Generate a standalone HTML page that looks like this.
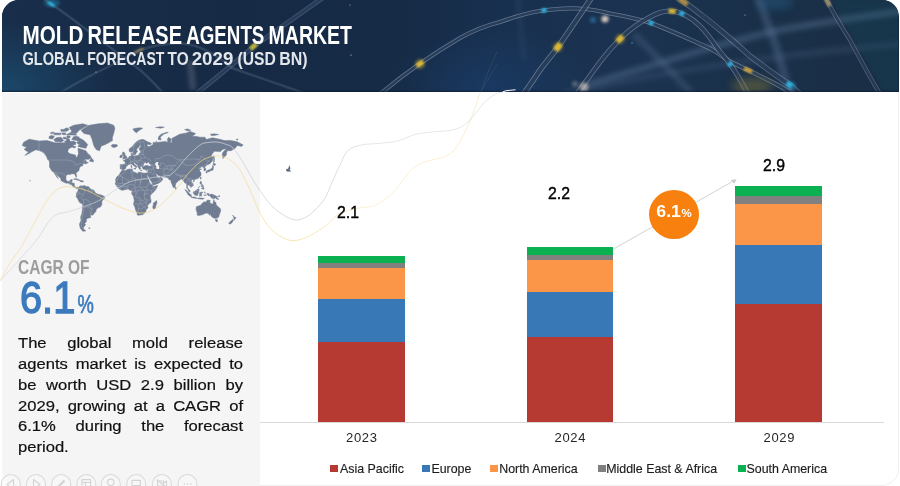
<!DOCTYPE html>
<html lang="en">
<head>
<meta charset="utf-8">
<title>Mold Release Agents Market</title>
<style>
html,body{margin:0;padding:0;background:#fff;}
body{width:900px;height:486px;overflow:hidden;position:relative;font-family:"Liberation Sans",sans-serif;}
#frame{position:absolute;left:2px;top:0;width:897px;height:486px;border:1px solid #f0f0f0;border-radius:17px;box-sizing:border-box;background:#fff;overflow:hidden;}
#header{position:absolute;left:2px;top:0;width:896.5px;height:91.7px;border-radius:17px 17px 0 0;overflow:hidden;background:#172a44;}
#header svg{position:absolute;left:0;top:0;}
#panel{position:absolute;left:2px;top:93.2px;width:257.6px;height:393.5px;background:#f5f5f5;border-radius:0 0 0 17px;}
.t1{position:absolute;left:20.2px;top:19.3px;font-weight:bold;font-size:24px;line-height:32px;color:#fff;white-space:nowrap;transform-origin:0 50%;transform:scaleX(.815);letter-spacing:0;}
.t2{position:absolute;left:20.6px;top:47.2px;font-weight:bold;font-size:17.3px;line-height:24px;color:#e4e6ea;white-space:nowrap;transform-origin:0 50%;transform:scaleX(.868);}
#deco{position:absolute;left:0;top:0;width:900px;height:486px;pointer-events:none;}
.cagr{position:absolute;left:18.4px;top:255.2px;font-weight:bold;font-size:19.8px;line-height:24px;color:#9d9d9d;white-space:nowrap;transform-origin:0 50%;transform:scaleX(.785);}
.big{position:absolute;left:20px;top:273.8px;font-size:44.2px;line-height:48px;color:#3b7abd;white-space:nowrap;transform-origin:0 50%;transform:scaleX(.9);-webkit-text-stroke:1.4px #3b7abd;}
.big small{font-size:25.5px;display:inline-block;transform-origin:0 50%;transform:scaleX(.8);margin-left:3px;-webkit-text-stroke:.7px #3b7abd;}
.para{position:absolute;left:18.3px;top:333.2px;width:210.3px;font-size:15.5px;line-height:20.8px;color:#111;-webkit-text-stroke:.2px #111;transform-origin:0 0;transform:scaleX(1.07);}
.para div{text-align:justify;text-align-last:justify;white-space:nowrap;height:20.8px;}
.para div.last{text-align-last:left;}
.bar{position:absolute;}
.val{position:absolute;font-size:17px;line-height:20px;color:#000;width:40px;text-align:center;-webkit-text-stroke:.4px #000;transform:scaleX(.93);}
.yr{position:absolute;font-size:13px;line-height:16px;color:#262626;width:60px;text-align:center;top:430px;letter-spacing:.75px;text-indent:.75px;}
.lg{position:absolute;top:461.8px;font-size:12.4px;line-height:15px;color:#1c1c1c;white-space:nowrap;-webkit-text-stroke:.15px #1c1c1c;}
.sq{position:absolute;top:464.7px;width:7.6px;height:7.4px;}
#axis{position:absolute;left:260px;top:421.5px;width:624px;height:1px;background:#d9d9d9;}
.bubble{position:absolute;left:649px;top:190px;width:50px;height:49px;border-radius:50%;background:#f8800f;}
.btxt{position:absolute;left:649px;top:201.2px;width:50px;text-align:center;color:#fff;font-weight:bold;font-size:16.4px;line-height:20px;white-space:nowrap;transform:scaleX(1.08);}
.btxt small{font-size:10.6px;margin-left:.5px;}
</style>
</head>
<body>
<div id="frame"></div>
<div id="panel"></div>

<div id="header">
<svg width="896" height="92" viewBox="2 0 896 92">
<defs>
<linearGradient id="hg" x1="0" y1="0" x2="1" y2="0">
<stop offset="0" stop-color="#182e4a"/><stop offset=".25" stop-color="#162a45"/><stop offset=".45" stop-color="#162b46"/><stop offset=".55" stop-color="#18304f"/><stop offset=".7" stop-color="#1b3350"/><stop offset=".85" stop-color="#1a3049"/><stop offset="1" stop-color="#1a2e45"/>
</linearGradient>
<radialGradient id="gl2" cx=".5" cy=".5" r=".5"><stop offset="0" stop-color="#1a3c68" stop-opacity=".75"/><stop offset="1" stop-color="#1a3c68" stop-opacity="0"/></radialGradient>
<radialGradient id="gl1" cx="0" cy="1" r="1"><stop offset="0" stop-color="#1e5a80" stop-opacity=".6"/><stop offset="1" stop-color="#1e5a80" stop-opacity="0"/></radialGradient>
<linearGradient id="edge" x1="0" y1="0" x2="0" y2="1"><stop offset="0" stop-color="#0e1c33" stop-opacity="0"/><stop offset="1" stop-color="#0e1c33" stop-opacity=".7"/></linearGradient>
<filter id="b6" x="-20%" y="-60%" width="140%" height="220%"><feGaussianBlur stdDeviation="2.6"/></filter>
<filter id="b4" x="-50%" y="-100%" width="200%" height="300%"><feGaussianBlur stdDeviation="4"/></filter>
<filter id="b2" x="-50%" y="-50%" width="200%" height="200%"><feGaussianBlur stdDeviation="1.6"/></filter>
<filter id="b1" x="-50%" y="-50%" width="200%" height="200%"><feGaussianBlur stdDeviation=".9"/></filter>
<filter id="b0" x="-10%" y="-10%" width="120%" height="120%"><feGaussianBlur stdDeviation=".35"/></filter>
<path id="T1" d="M380 94 C404 74 436 52 460 38 C476 29 488 25 500 22 C514 17 526 13 540 11 C553 9 566 8 578 8.500 C590 9 600 11 610 13.500 C624 16 638 19 651 23 C661 27 671 31 680 35 C690 39.500 701 44 711 49 C718 53 725 58 731 62 C737 65 743 68 748 70 C756 74 764 78 772 82 C778 85 784 88 792 94"/>
<path id="T2" d="M523 95 C529 86 535 78 540 70 C546 62 552 55 558 47 C569 31 580 15 592 -3"/>
<path id="T3" d="M576 95 C584 84 592 73 600 62 C606 54 613 46 620 39 C630 29 640 22 650 17 C657 13 664 11 670 11 C676 11 681 13 685 15 C691 18 696 22 700 26 C708 34 714 43 720 52 C724 56 727 60 730 64 C736 72 741 81 748 94"/>
<path id="T4" d="M676 -3 C686 3 693 8 700 14 C707 19 714 25 720 30 C730 38 740 47 750 56 C763 66 776 76 790 85 L800 94"/>
<path id="T5" d="M825 -3 C833 12 841 26 850 40 C859 57 868 74 880 94"/>
<path id="T6" d="M196 94 C216 78 236 62 254 46 C276 31 298 15 324 -3"/>
<path id="T7" d="M41 -3 C48 2 54 6 60 10 C74 20 87 30 100 40 C114 50 127 60 140 70 C147 76 154 83 164 94"/>
<path id="T8" d="M60 93 C76 83 93 74 110 66 C120 61 130 55 140 50 C154 45 168 43 182 43.500 C200 45 216 54 232 68 C254 76 278 84 304 93"/>
</defs>
<rect x="0" y="0" width="900" height="92" fill="url(#hg)"/>
<rect x="0" y="20" width="110" height="72" fill="url(#gl1)"/>
<ellipse cx="490" cy="88" rx="100" ry="62" fill="url(#gl2)"/>
<!-- blurred wide bands -->
<g fill="none" stroke="#5b7496" filter="url(#b6)">
<path d="M586 85 C610 78 630 72 650 66 C675 58 698 52 720 45 C740 40 760 34 780 30 C800 26 820 23 840 20 L902 11" stroke-width="7" stroke-opacity=".42"/>
<path d="M634 34 C652 52 670 70 692 94" stroke-width="7" stroke-opacity=".3"/>
<path d="M758 -3 C764 14 770 30 776 46 C780 60 784 76 790 94" stroke-width="8" stroke-opacity=".4"/>
<path d="M560 95 C640 76 760 56 902 44" stroke-width="6" stroke-opacity=".22"/>
<path d="M190 60 L193 90" stroke-width="5" stroke="#9a9aa8" stroke-opacity=".35"/>
<path d="M518 -2 L524 60" stroke-width="5" stroke-opacity=".14"/>
</g>
<path d="M832 0 L900 0 L900 92 L884 92Z" fill="#215a6a" fill-opacity=".13" filter="url(#b2)"/>
<g fill="none" stroke-linecap="butt" filter="url(#b0)">
<use href="#T1" stroke="#b7c6dd" stroke-opacity=".46" stroke-width="4.2"/>
<use href="#T1" stroke="#192e4a" stroke-opacity=".8" stroke-width="2.6"/>
<use href="#T2" stroke="#b7c6dd" stroke-opacity=".46" stroke-width="5.6"/>
<use href="#T2" stroke="#192e4a" stroke-opacity=".8" stroke-width="4"/>
<use href="#T3" stroke="#b7c6dd" stroke-opacity=".42" stroke-width="5"/>
<use href="#T3" stroke="#192e4a" stroke-opacity=".8" stroke-width="3.4"/>
<use href="#T4" stroke="#b7c6dd" stroke-opacity=".36" stroke-width="5.6"/>
<use href="#T4" stroke="#1b314d" stroke-opacity=".78" stroke-width="4"/>
<use href="#T5" stroke="#b7c6dd" stroke-opacity=".36" stroke-width="4.2"/>
<use href="#T5" stroke="#192e4a" stroke-opacity=".78" stroke-width="2.8"/>
<use href="#T6" stroke="#b7c6dd" stroke-opacity=".28" stroke-width="4.6"/>
<use href="#T6" stroke="#1b3152" stroke-opacity=".7" stroke-width="3"/>
<use href="#T7" stroke="#b7c6dd" stroke-opacity=".16" stroke-width="2.4"/>
<use href="#T8" stroke="#b7c6dd" stroke-opacity=".15" stroke-width="2.4"/>
</g>
<!-- colored segments -->
<g fill="none" stroke-linecap="butt" filter="url(#b1)" opacity=".9">
<use href="#T1" stroke="#f0c62e" stroke-width="4.2" stroke-dasharray="7 2000" stroke-dashoffset="-46.5"/>
<use href="#T1" stroke="#2fc0f0" stroke-width="4" stroke-dasharray="5 2000" stroke-dashoffset="-184"/>
<use href="#T1" stroke="#2fc0f0" stroke-width="4" stroke-dasharray="5 2000" stroke-dashoffset="-292.75"/>
<use href="#T1" stroke="#e8b23a" stroke-width="4" stroke-dasharray="9 2000" stroke-dashoffset="-398.75"/>
<use href="#T2" stroke="#f0c62e" stroke-width="5.4" stroke-dasharray="8 2000" stroke-dashoffset="-55.5"/>
<use href="#T3" stroke="#f0c62e" stroke-width="4.8" stroke-dasharray="7 2000" stroke-dashoffset="-67.75"/>
<use href="#T3" stroke="#f0c62e" stroke-width="4.6" stroke-dasharray="7 2000" stroke-dashoffset="-128.25"/>
<use href="#T3" stroke="#2fc0f0" stroke-width="4.6" stroke-dasharray="5 2000" stroke-dashoffset="-139.25"/>
<use href="#T3" stroke="#2fc0f0" stroke-width="4.6" stroke-dasharray="4.5 2000" stroke-dashoffset="-210.5"/>
<use href="#T4" stroke="#e8b23a" stroke-width="4.6" stroke-dasharray="10 2000" stroke-dashoffset="-3.5" stroke-opacity=".8"/>
<use href="#T4" stroke="#2fc0f0" stroke-width="4.8" stroke-dasharray="6 2000" stroke-dashoffset="-140.25"/>
<use href="#T5" stroke="#e8c87a" stroke-width="4" stroke-dasharray="9 2000" stroke-dashoffset="-1.25" stroke-opacity=".7"/>
<use href="#T6" stroke="#dfd030" stroke-width="4.4" stroke-dasharray="8 2000" stroke-dashoffset="-70.5" stroke-opacity=".95"/>
<use href="#T7" stroke="#2fc0f0" stroke-width="3" stroke-dasharray="7 2000" stroke-dashoffset="-9"/>
<use href="#T8" stroke="#d9b85a" stroke-width="2.6" stroke-dasharray="10 2000" stroke-dashoffset="-84.5" stroke-opacity=".6"/>
</g>
<g fill="none" stroke-width=".8"><path d="M481 92 C485 80 490 66 497 52" stroke="#f3d47c" stroke-opacity=".12"/><path d="M480 92 C486 84 491 74 497 64" stroke="#c6c9d2" stroke-opacity=".12"/></g>
<!-- glows -->
<g filter="url(#b2)">
<circle cx="420" cy="64" r="5" fill="#f2c832" fill-opacity=".35"/>
<circle cx="558" cy="47" r="5" fill="#f2c832" fill-opacity=".3"/>
<circle cx="620" cy="39" r="5" fill="#f2c832" fill-opacity=".3"/>
<circle cx="605" cy="19" r="3.600" fill="#f0dccf" fill-opacity=".85"/>
<circle cx="593" cy="20" r="3" fill="#2f8fd0" fill-opacity=".5"/>
<circle cx="584" cy="87" r="4.500" fill="#e8d9c9" fill-opacity=".6"/>
<circle cx="575" cy="84" r="3" fill="#e8d9c9" fill-opacity=".3"/>
<ellipse cx="752" cy="86" rx="20" ry="8" fill="#a08a34" fill-opacity=".38" filter="url(#b4)"/>
<ellipse cx="775" cy="2" rx="18" ry="7" fill="#2a78ac" fill-opacity=".32" filter="url(#b4)"/>
<ellipse cx="52" cy="3" rx="8" ry="4" fill="#2fc0f0" fill-opacity=".3"/>
<circle cx="792" cy="86" r="4" fill="#2fc0f0" fill-opacity=".35"/>
</g>
<g fill="#cfe0f5">
<circle cx="351" cy="55" r=".6"/><circle cx="350" cy="5" r=".5"/><circle cx="632" cy="43" r=".7" fill="#2fa8f0"/><circle cx="96" cy="72" r=".5"/><circle cx="745" cy="15" r=".5"/>
</g>
<rect x="0" y="89.500" width="900" height="2.500" fill="url(#edge)"/>
</svg>
<svg width="896" height="92" viewBox="2 0 896 92" style="position:absolute;left:0;top:0;">
<text y="44.1" font-family="Liberation Sans, sans-serif" font-weight="bold" font-size="25.2" fill="#ffffff" xml:space="preserve"><tspan x="22.4" textLength="61.0" lengthAdjust="spacingAndGlyphs">MOLD</tspan> <tspan x="87.6" textLength="94.4" lengthAdjust="spacingAndGlyphs">RELEASE</tspan> <tspan x="186.2" textLength="78.2" lengthAdjust="spacingAndGlyphs">AGENTS</tspan> <tspan x="268.6" textLength="83.4" lengthAdjust="spacingAndGlyphs">MARKET</tspan></text>
<text y="65.2" font-family="Liberation Sans, sans-serif" font-weight="bold" font-size="18.6" fill="#e3e6eb" xml:space="preserve"><tspan x="22.5" textLength="61.3" lengthAdjust="spacingAndGlyphs">GLOBAL</tspan> <tspan x="87.2" textLength="77.2" lengthAdjust="spacingAndGlyphs">FORECAST</tspan> <tspan x="167.6" textLength="21" lengthAdjust="spacingAndGlyphs">TO</tspan> <tspan x="191.7" textLength="41.6" lengthAdjust="spacingAndGlyphs">2029</tspan> <tspan x="237.5" textLength="38.3" lengthAdjust="spacingAndGlyphs">(USD</tspan> <tspan x="279.2" textLength="28.3" lengthAdjust="spacingAndGlyphs">BN)</tspan></text>
</svg>
</div>

<svg id="deco" viewBox="0 0 900 486">
<defs><linearGradient id="lgGold" gradientUnits="userSpaceOnUse" x1="0" y1="0" x2="500" y2="0"><stop offset="0" stop-color="#f3d47c" stop-opacity=".5"/><stop offset=".12" stop-color="#f3d47c" stop-opacity=".62"/><stop offset=".62" stop-color="#f3d47c" stop-opacity=".62"/><stop offset=".75" stop-color="#f3d47c" stop-opacity=".36"/><stop offset="1" stop-color="#f3d47c" stop-opacity=".45"/></linearGradient><linearGradient id="lgGray" gradientUnits="userSpaceOnUse" x1="0" y1="0" x2="500" y2="0"><stop offset="0" stop-color="#c6c9d2" stop-opacity=".55"/><stop offset=".5" stop-color="#c6c9d2" stop-opacity=".7"/><stop offset=".64" stop-color="#c6c9d2" stop-opacity=".75"/><stop offset=".75" stop-color="#c6c9d2" stop-opacity=".5"/><stop offset="1" stop-color="#c6c9d2" stop-opacity=".5"/></linearGradient><path id="mapshape" d="M22.3 145.4L23.6 142.3L29.1 139.2L39.0 141.0L47.0 140.6L55.0 142.8L59.4 142.8L64.3 142.8L66.8 141.7L68.0 138.4L70.5 141.7L73.6 141.2L76.0 142.8L72.9 144.9L72.3 146.9L68.6 148.8L67.7 151.6L69.2 153.4L72.3 154.3L75.4 155.1L76.6 158.1L77.6 156.0L78.5 153.4L77.9 148.3L81.6 149.3L82.8 149.8L85.9 150.7L87.7 153.4L90.2 155.6L91.4 157.7L89.0 159.3L85.3 159.3L82.8 161.7L85.9 160.1L86.2 162.1L88.4 162.4L85.6 164.1L84.7 163.2L82.8 164.3L82.8 165.7L80.3 166.6L79.1 169.1L79.1 170.5L76.0 172.9L76.6 175.9L76.3 177.3L75.4 175.9L74.8 173.9L71.7 173.7L70.5 174.6L68.0 174.3L66.2 175.6L65.8 179.2L67.4 181.5L69.9 181.3L70.2 179.9L72.3 179.5L71.7 183.0L74.2 183.2L74.5 186.2L76.0 187.4L77.3 187.1L78.2 187.7L77.9 188.7L76.6 188.4L74.8 187.7L73.2 186.8L72.0 184.9L69.9 184.3L68.0 183.0L66.2 183.2L63.1 181.8L60.9 180.5L60.9 178.6L58.7 176.6L56.6 174.3L55.2 172.9L56.9 175.9L58.4 178.6L56.9 177.3L55.7 175.3L53.8 172.2L51.7 170.8L50.7 169.1L49.5 166.9L49.5 162.4L49.1 160.6L50.1 160.1L47.6 158.5L45.8 155.6L43.3 152.5L39.6 150.7L35.9 149.8L32.2 151.6L28.5 153.8L24.8 155.4L28.5 152.1L26.0 150.7L24.2 149.3L26.7 146.9L24.2 146.4ZM76.0 136.4L79.1 137.8L84.0 140.6L87.7 144.4L85.9 148.3L81.6 147.4L77.9 146.4L81.0 142.8L76.6 140.6L71.7 139.5L73.6 136.6ZM53.8 139.5L56.9 137.6L61.2 137.2L63.7 140.6L61.2 142.0L55.0 141.5ZM48.9 138.4L52.6 139.0L54.4 136.6L52.6 135.4L49.5 136.0ZM70.5 132.9L76.6 133.2L79.1 130.3L87.7 125.3L82.8 123.8L73.6 125.3L69.2 127.5L71.7 131.0ZM67.4 134.8L76.6 135.2L76.0 133.8L69.2 132.9ZM53.8 134.8L60.6 134.8L61.2 133.2L54.4 132.9ZM64.3 131.0L66.8 131.2L69.2 129.6L67.4 127.8L64.3 128.9ZM63.1 137.2L66.2 137.2L66.2 139.0L63.7 139.0ZM72.9 145.4L76.0 146.9L74.2 147.9L72.3 147.2ZM81.0 130.3L85.3 127.5L89.0 125.3L98.2 123.8L107.5 123.0L113.7 125.3L114.9 128.2L113.7 133.6L112.4 137.2L112.4 140.6L108.7 142.8L104.4 144.9L101.3 145.9L99.5 150.7L96.4 149.8L93.9 145.9L92.7 141.7L92.1 139.5L90.2 134.8L84.0 133.6ZM111.2 145.4L112.4 144.5L116.7 144.6L117.7 145.9L114.9 147.5L112.1 147.1ZM78.2 187.7L79.7 186.2L81.6 185.6L81.9 186.2L84.0 185.6L86.5 186.5L88.4 186.5L90.8 189.3L93.9 190.2L95.2 192.7L96.4 193.6L98.9 194.5L101.3 194.9L104.4 196.4L104.4 198.6L101.9 201.1L101.9 204.2L100.7 206.8L98.2 207.8L96.1 209.4L96.1 211.1L93.9 213.8L92.7 215.2L90.2 214.8L90.8 217.6L87.7 218.3L85.9 219.8L86.8 220.9L84.7 223.6L85.6 224.7L83.4 227.5L83.7 229.2L85.9 230.9L82.8 231.3L80.3 228.3L79.4 224.3L81.0 220.5L80.7 216.9L81.9 213.4L82.5 208.7L82.8 204.5L79.4 202.3L77.3 197.9L76.0 196.7L76.6 194.9L76.3 193.6L77.3 192.1L78.2 190.5L78.2 188.7ZM120.4 169.1L120.1 164.7L124.8 164.3L125.4 162.4L123.2 160.6L125.1 160.3L125.1 159.5L127.2 158.5L128.5 157.7L129.1 156.6L131.2 156.0L131.2 153.4L132.5 152.8L132.2 154.7L133.4 155.8L134.6 156.0L137.4 155.4L139.0 155.1L139.0 153.4L140.8 153.0L140.5 151.3L143.3 151.0L144.5 150.7L140.2 150.7L139.3 149.8L139.3 147.9L141.4 145.9L139.6 145.2L139.0 146.9L136.8 148.8L136.5 150.2L137.7 151.1L136.2 153.0L135.9 154.1L134.8 154.7L133.9 154.7L133.1 152.5L132.5 151.3L130.9 152.3L129.4 151.6L129.1 149.3L130.3 147.9L132.5 146.4L134.0 144.4L135.9 142.3L138.3 140.6L141.4 139.5L143.3 139.5L145.1 140.3L146.4 141.3L151.3 143.3L150.7 144.7L147.0 144.2L147.6 146.6L149.4 146.4L150.7 145.9L153.1 144.6L153.1 142.3L154.4 142.5L158.7 142.3L163.0 141.7L165.5 141.4L168.0 142.3L167.3 139.5L168.6 137.2L171.0 139.0L170.7 142.8L172.0 142.8L171.7 138.4L175.4 136.6L179.7 134.2L186.5 132.9L190.2 131.4L195.7 133.6L192.0 136.6L195.7 136.3L200.0 137.2L205.0 137.2L206.2 139.5L212.4 137.8L218.6 139.0L224.7 140.6L230.9 140.6L237.1 141.7L243.2 144.9L241.4 146.4L237.7 145.4L236.4 146.4L235.2 148.3L230.9 150.7L227.2 150.7L226.6 152.5L226.3 155.1L224.7 156.8L222.9 158.5L222.3 153.4L223.5 151.6L226.6 148.8L222.9 149.3L220.4 151.6L214.2 151.3L211.1 155.6L213.0 156.8L212.4 160.9L209.6 164.0L207.4 164.7L206.2 165.5L204.7 167.3L205.9 169.1L205.6 170.5L203.9 170.8L204.1 168.7L203.1 167.1L201.0 166.3L200.7 167.7L198.8 167.7L199.4 168.9L201.6 169.1L200.0 169.8L199.5 170.5L201.0 172.9L201.0 175.3L199.7 176.9L197.9 178.6L196.0 179.1L193.9 179.7L193.6 180.3L192.6 179.5L191.4 180.5L191.4 181.8L192.9 183.4L193.4 185.6L192.0 186.5L190.8 187.6L190.7 186.6L189.1 185.6L188.0 184.6L187.4 186.8L188.0 188.7L189.6 189.9L190.2 192.1L188.3 191.1L187.9 189.3L186.7 188.1L186.8 186.2L186.3 183.4L184.9 183.0L184.2 181.8L182.8 179.9L181.8 178.9L180.3 179.4L179.6 180.2L178.4 180.8L176.6 182.7L175.5 183.7L175.4 185.6L175.1 186.8L173.8 188.1L172.9 186.5L172.0 184.3L171.0 182.1L170.9 179.9L169.5 180.0L168.6 179.0L167.5 177.6L164.3 177.1L161.3 176.8L160.9 175.9L158.1 175.6L157.2 173.9L155.9 174.3L156.8 176.3L157.8 177.6L159.3 177.8L160.7 176.6L161.0 177.6L162.9 178.9L161.8 180.8L159.9 182.4L158.1 183.4L153.8 185.1L152.7 185.1L152.2 183.0L150.1 179.5L147.6 175.3L147.3 174.3L147.2 173.0L148.1 170.8L148.2 169.2L146.1 169.7L144.8 169.4L143.3 169.3L142.4 168.0L142.2 166.9L143.9 166.2L145.7 165.5L147.6 165.5L149.4 166.2L151.6 165.8L150.1 164.0L148.8 163.1L149.4 161.7L147.6 162.4L146.7 163.6L145.7 162.4L144.8 162.3L143.6 164.0L143.3 165.5L142.7 166.2L142.0 166.3L140.5 166.7L140.1 167.3L140.8 168.4L140.2 169.4L139.1 168.7L138.0 166.6L137.9 165.5L135.3 163.6L134.5 162.7L133.6 163.1L134.3 164.3L135.9 165.6L137.4 166.8L136.5 166.6L136.2 168.0L135.7 168.4L135.9 167.3L134.9 166.4L133.4 165.5L132.4 164.3L131.4 163.7L130.3 164.2L128.5 164.4L128.0 165.2L126.3 166.6L125.8 167.7L125.5 168.7L124.6 169.2L122.7 169.7L122.0 169.2ZM122.4 169.9L125.4 170.5L127.9 169.2L132.2 168.9L132.8 171.2L132.2 171.4L135.3 172.4L137.7 173.7L138.3 172.2L140.2 172.2L143.9 173.2L146.1 173.1L147.2 173.0L147.5 174.3L146.9 175.4L146.1 174.0L147.9 177.9L149.0 179.9L149.1 181.5L150.4 183.4L152.7 185.2L152.5 185.9L153.5 186.5L157.6 185.6L157.3 186.8L155.3 190.2L153.1 192.4L151.3 194.2L150.2 196.1L150.4 197.9L151.0 199.5L151.0 202.3L148.8 203.9L147.6 205.5L147.9 208.1L146.2 209.4L146.1 211.1L144.8 212.8L142.7 214.7L139.6 215.0L138.3 215.4L137.3 214.8L137.1 213.4L135.6 210.1L134.9 207.1L133.4 204.2L134.3 200.8L133.5 196.7L131.6 193.6L131.9 191.5L131.6 190.3L129.7 190.3L128.5 189.1L126.6 189.3L124.5 189.9L121.4 190.2L119.2 188.9L117.9 187.4L116.7 186.2L115.7 184.6L115.2 183.9L115.9 181.1L115.5 179.9L116.1 178.1L117.1 176.6L118.6 175.3L119.8 174.3L120.0 172.9L121.1 171.5L122.1 170.6ZM156.4 200.4L157.0 202.6L156.0 205.5L155.0 208.7L153.1 208.7L152.7 206.8L153.3 205.2L153.3 203.1L155.0 202.0ZM122.6 159.3L126.8 158.3L127.0 157.1L126.2 156.8L125.8 155.6L124.8 154.4L124.8 152.9L123.5 152.8L124.0 152.0L122.9 152.0L122.3 153.4L122.6 154.7L123.0 155.3L124.1 156.0L124.1 156.6L123.2 156.7L123.3 157.5L122.8 157.8L124.1 158.2L123.2 158.5ZM119.8 157.7L122.1 157.5L122.3 155.8L122.5 155.1L121.1 154.9L119.8 156.0L120.1 156.8ZM206.2 173.0L207.1 172.9L207.4 171.5L209.3 171.5L210.5 170.8L211.8 170.5L213.0 170.0L213.3 168.2L213.6 167.3L213.2 165.9L212.4 166.2L212.4 167.3L211.5 168.7L210.4 168.9L209.9 169.8L208.1 170.1L206.8 171.0L206.0 171.7ZM212.4 165.5L213.3 164.7L213.4 162.9L215.5 164.0L215.8 164.6L214.4 165.5L213.0 165.1ZM213.6 155.7L214.2 156.8L214.5 159.3L214.2 162.1L213.6 162.4L213.6 160.1L213.5 157.7ZM200.7 177.1L201.3 177.3L200.7 179.2L200.0 178.6ZM200.3 181.5L201.4 181.5L201.3 183.0L202.5 184.9L201.6 184.5L200.3 184.0L200.0 183.0ZM201.3 185.6L203.1 185.2L203.4 186.5L201.9 187.1L201.3 186.5ZM201.3 188.7L203.4 186.9L204.1 188.7L203.4 189.5L202.5 188.7ZM198.3 187.9L199.7 186.2L199.4 186.8L198.7 187.7ZM184.8 189.5L186.5 190.5L190.2 194.2L191.4 194.9L191.3 196.6L190.5 196.6L188.3 194.9L186.8 192.4ZM190.9 197.2L192.9 197.0L194.5 197.0L196.6 197.8L196.5 198.4L192.6 197.8ZM197.3 198.1L199.4 198.1L201.9 198.1L203.1 198.3L204.4 198.3L202.5 199.3L200.0 198.9L197.6 198.6ZM193.3 192.0L194.8 191.3L195.7 190.8L197.3 189.6L198.2 188.7L199.4 189.8L198.7 190.8L198.8 192.4L197.9 193.8L197.6 195.5L196.6 195.5L194.8 195.0L193.9 193.9L193.3 193.0ZM199.7 192.7L200.7 192.3L203.1 192.1L202.5 192.8L200.3 192.8L201.0 193.6L202.1 193.5L201.3 194.2L201.9 195.8L201.3 196.1L200.7 194.9L200.2 196.4L199.7 196.4L199.7 195.0L199.3 194.7L199.9 193.0ZM204.7 191.8L205.3 192.1L205.0 193.3L204.7 192.7ZM203.7 195.0L206.5 194.9L206.2 195.3L204.1 195.3ZM206.8 193.5L208.7 193.5L209.3 195.0L211.1 194.0L213.0 194.6L215.5 195.7L217.0 196.7L216.7 197.3L218.9 199.4L216.7 198.9L215.2 197.8L214.2 198.6L213.0 198.6L211.5 198.1L211.1 197.3L209.9 195.8L208.1 195.5L207.4 194.7ZM217.6 196.4L219.8 195.6L220.0 196.1L217.9 196.9ZM196.3 206.8L196.0 209.4L197.3 213.1L197.0 215.0L198.8 215.5L202.2 214.8L205.6 213.2L207.1 213.1L209.0 214.1L209.8 215.4L210.8 214.1L211.1 215.9L212.7 217.6L214.5 218.2L216.3 218.3L218.6 217.3L219.4 214.5L220.7 211.1L220.4 208.7L218.2 206.8L216.3 204.9L215.8 202.3L214.5 201.8L213.9 199.6L213.4 201.1L213.0 203.9L211.8 203.9L209.6 202.3L210.4 200.6L207.9 200.0L206.7 200.7L205.9 202.3L204.4 201.7L203.1 202.6L201.5 203.9L201.0 205.2L198.2 206.0ZM215.3 219.6L217.5 219.7L217.3 221.5L216.1 221.7L215.7 220.7ZM232.6 215.1L233.7 216.2L234.6 217.3L236.1 217.4L235.2 218.7L234.2 220.2L233.8 218.7L233.8 217.3ZM232.6 219.4L233.5 220.2L232.6 221.8L231.5 223.2L230.6 224.0L228.7 223.6L229.7 222.0L231.5 220.5ZM175.4 186.9L176.5 188.4L176.0 189.3L175.2 188.7ZM132.8 128.9L135.9 128.2L139.6 127.8L142.7 128.2L139.0 130.6L136.5 132.7L134.6 131.6ZM158.1 139.5L161.2 139.9L160.2 137.2L163.6 134.2L168.3 132.5L166.7 132.3L161.2 134.2L158.7 136.6ZM184.6 129.6L187.7 128.9L190.8 130.3L187.7 131.0ZM155.6 127.5L159.9 126.8L164.3 127.1L160.6 128.2ZM210.5 134.2L214.2 133.8L218.6 134.6L214.2 135.4L211.1 135.4ZM236.1 139.3L238.0 139.0L238.0 139.7L236.4 139.7ZM73.6 179.2L75.4 178.4L78.5 179.4L80.2 180.4L78.2 180.6L77.9 179.9L75.4 179.5ZM80.1 180.6L81.6 180.5L83.7 181.3L82.2 181.9L80.1 181.5ZM89.4 161.1L91.4 158.1L93.3 160.1L93.5 161.7L91.8 161.8ZM46.8 158.6L48.9 159.3L49.8 160.5L48.6 160.2ZM193.1 180.8L194.4 180.5L194.2 181.5L193.3 181.6ZM133.7 168.4L135.6 168.2L135.3 169.3L133.8 168.7ZM131.1 166.2L132.0 166.2L131.9 167.5L131.2 167.7ZM131.4 165.1L131.9 164.7L131.8 165.8L131.4 165.8ZM140.5 170.1L142.2 170.3L142.0 170.5L140.6 170.4ZM145.9 170.5L147.3 170.1L146.9 170.8L146.1 170.7ZM208.1 171.2L209.0 171.0L208.8 171.7L207.9 171.9ZM29.7 180.4L30.4 180.6L30.1 181.1L29.7 180.8ZM88.4 227.9L90.2 227.9L89.6 228.6ZM132.8 154.4L133.8 154.3L133.6 155.1L132.9 155.0ZM155.9 141.2L156.7 141.4L156.2 141.9ZM66.8 136.0L70.2 136.0L69.9 138.0L67.1 137.8ZM61.8 132.9L65.5 132.8L65.5 134.8L62.4 134.6ZM64.6 140.9L66.8 140.9L67.1 142.2L64.9 142.0ZM50.1 132.9L53.2 131.9L54.4 132.9L51.3 133.8ZM60.6 129.6L64.3 129.3L64.9 131.2L61.2 131.4ZM66.5 134.1L68.6 134.1L68.3 135.2L66.8 135.1ZM76.0 136.6L79.1 136.9L78.5 137.8L76.3 137.7ZM76.6 142.3L79.7 141.7L80.7 143.3L78.5 144.4ZM70.5 141.7L73.6 141.2L75.7 142.3L75.7 144.4L72.9 144.7L71.1 143.3ZM66.2 138.4L68.6 138.4L69.9 140.6L68.6 142.3L66.8 141.2Z"/><clipPath id="mc"><use href="#mapshape"/></clipPath></defs>
<use href="#mapshape" fill="#6f7c92" stroke="#6f7c92" stroke-width=".5" stroke-linejoin="round"/>
<path d="M50.1 160.1L67.4 160.1L71.1 160.9L73.9 162.1L75.1 163.2L75.1 165.1L77.3 164.7L79.1 163.6L82.2 163.2L84.7 161.4M39.0 141.0L39.0 150.7L42.7 151.6L45.8 154.7M53.8 172.2L57.5 173.0L60.3 172.8L63.7 174.1L66.0 176.6M69.2 184.0L69.9 181.9L71.1 181.9L71.5 183.0M70.9 184.1L71.9 184.8M74.4 186.2L73.1 186.1M74.9 187.1L74.9 188.0M81.9 185.9L81.3 188.1L84.4 189.3L84.7 192.1L82.8 195.5L81.0 197.6L82.5 199.8L83.4 199.8M83.4 199.8L85.7 199.2L89.0 201.4L90.2 203.6L90.2 205.5L87.7 206.8L84.4 207.4L83.1 203.9L83.4 199.8M90.2 205.5L92.4 209.1L90.5 212.1L93.0 214.6M87.7 206.8L90.5 208.9L92.4 209.1M90.5 212.1L90.0 214.5M84.4 207.4L82.8 214.1L81.9 219.1L81.3 226.7L83.7 228.8M76.5 195.2L79.4 193.6L79.6 193.0M77.3 192.2L79.6 193.0L82.8 195.5M89.0 187.7L88.4 189.9L89.0 192.1L91.1 191.8L94.2 190.5M90.7 189.4L91.1 191.8M92.7 189.5L92.4 191.6M124.9 164.5L128.0 165.2M120.6 165.5L122.0 165.6L121.7 167.3L121.4 168.9M127.5 158.5L129.7 159.3L130.9 160.1L130.6 161.3L129.7 162.2L130.3 164.0M129.7 159.3L130.3 156.6M131.2 155.1L132.0 155.3M134.8 156.0L135.3 158.5L133.4 159.0L134.5 160.3L136.5 160.9L139.9 160.1L140.8 158.5L140.5 156.0L140.1 155.6M136.5 160.9L136.2 162.1L134.5 162.1M139.9 160.1L139.9 160.9L137.7 162.4L136.2 162.1M137.7 162.4L137.7 165.5M139.9 160.9L142.4 160.9L143.4 162.8M139.9 164.0L143.6 164.2M139.0 166.2L142.0 165.8M143.3 151.0L143.0 153.0L143.3 154.3L145.1 157.7L147.0 158.1L149.4 159.3L150.7 160.9L149.6 161.5M139.0 154.3L142.0 154.5L143.3 154.3M140.8 158.5L145.1 157.7M133.1 151.6L133.7 149.8L133.4 146.9L135.3 144.4L137.1 142.3L138.6 141.7L141.4 142.0L143.8 141.4M140.6 145.1L140.5 143.0L138.6 141.7M143.8 141.4L144.5 145.9L145.1 148.3L143.3 150.2M130.3 164.0L130.3 162.4L132.5 161.7L134.5 162.1M130.6 161.3L132.5 161.7M134.5 160.3L132.5 161.7M148.2 169.2L151.9 168.9L153.6 168.9L153.1 167.3L152.8 166.1L151.6 165.8M142.2 165.7L143.3 165.5M150.7 164.3L154.7 165.6L155.9 165.6M153.1 167.3L155.9 168.0L156.2 168.1M155.0 160.9L156.2 158.5L159.9 158.5L163.6 156.0L168.6 154.9L172.9 156.0L175.4 158.5L179.7 159.9M179.7 159.9L186.5 159.3L191.4 159.0L196.3 159.1L199.9 159.7M199.9 159.7L200.7 156.6L203.1 156.8L204.7 159.3L206.8 160.9L209.3 160.6L206.8 163.2L206.6 165.1M179.7 159.9L182.1 162.8L185.2 164.9L190.2 165.6L194.5 164.3L197.6 162.1L199.9 159.7M179.7 159.9L176.9 162.8L175.4 165.5L171.3 167.3L172.3 169.1L174.1 170.1L174.7 172.2L176.0 173.8L180.3 175.3L182.8 175.4L185.8 175.1L186.8 177.3L188.3 179.5L190.8 178.6L192.6 179.5M168.1 178.1L169.5 176.9L169.2 175.3L171.0 173.9L172.0 172.2L172.3 169.1M176.0 173.8L175.5 174.7L180.3 176.3L180.3 175.3M180.3 176.3L182.8 176.6L184.0 177.9L183.4 179.2L182.9 180.0M180.3 176.3L180.9 179.2M182.8 175.4L182.8 176.6M185.8 175.1L184.0 177.9M163.6 169.4L163.6 172.9L164.3 177.1M163.6 169.4L166.1 168.9L169.8 169.1L172.0 169.1M163.6 174.3L166.7 174.3L168.9 171.9L169.8 169.8L172.0 169.1M158.7 165.5L160.6 166.0L160.6 163.2L162.1 162.8L163.6 163.7L166.7 166.2L168.0 166.2L169.8 165.3L171.3 167.3M159.3 168.9L161.2 168.2L163.6 169.4M166.7 166.2L164.3 168.0L166.1 168.9M169.8 165.3L175.4 165.5M168.0 166.2L167.6 168.9M153.6 168.9L154.4 171.9L155.6 173.6M148.2 172.2L150.1 172.6L154.7 174.6L155.6 174.9M150.1 172.6L151.3 170.8L152.1 168.9M147.6 174.5L148.2 172.2L148.0 171.7M152.5 182.7L155.0 182.4L158.1 181.1L160.2 180.5L160.6 177.9M158.1 181.1L158.7 182.6M157.8 177.6L158.4 178.7L160.2 178.8L160.2 180.5M188.3 179.5L187.7 180.3L186.5 181.8L186.8 184.3L187.2 186.2M188.9 178.9L190.5 180.5L190.8 181.5L192.3 183.7L192.3 185.6L191.4 186.2L190.5 186.6M187.7 180.3L188.9 181.8L190.8 181.5M189.2 185.4L189.2 184.1L191.1 184.1L192.3 184.0M202.7 166.9L204.2 165.7L206.6 165.1M203.7 168.4L205.2 167.9M187.8 189.0L188.9 189.2M193.6 191.8L194.5 192.4L196.6 192.1L197.6 190.3L198.6 190.4M213.0 194.6L213.0 198.6M124.8 170.5L125.3 172.6L122.6 173.9L120.6 174.8L120.6 175.7L118.0 175.5M120.6 175.7L123.0 177.3L126.6 179.5L127.9 181.1L128.6 181.0L129.7 180.5L133.4 178.2L132.2 177.6L131.9 173.9L130.9 172.2L131.2 169.2M131.9 173.9L133.1 171.8M115.5 179.9L118.0 179.7L118.0 178.6L118.6 176.6L120.6 176.6L120.6 175.7M123.0 177.3L122.0 177.3L122.6 182.7L122.6 183.4L118.6 183.9L117.1 182.7L115.8 183.0M141.4 172.8L141.4 179.2L140.8 180.5L140.8 183.2M141.4 179.2L148.8 179.2M133.4 178.2L135.3 178.6L140.8 180.8M128.2 185.7L128.5 184.6L130.3 184.9L134.3 184.5L134.6 185.2M128.6 181.0L128.6 183.0L126.6 183.7L126.0 183.7L122.6 183.4M135.3 178.6L135.6 179.9L135.6 182.7L134.3 184.5M140.8 180.8L139.9 184.9L140.2 186.5L140.8 187.7L143.0 189.9M148.5 184.1L147.0 186.5L146.4 188.1L147.6 189.7M148.5 184.1L149.4 182.1M148.5 184.1L150.7 184.0L152.5 185.2M140.8 187.7L143.3 187.1L146.4 186.8L147.0 186.5M152.5 185.9L152.5 187.2L155.6 188.1L153.8 189.9L151.3 190.6M147.6 189.7L147.0 190.4L147.0 193.6L149.3 195.0L150.2 195.9M151.3 190.6L151.3 194.0M147.6 189.7L151.3 190.6M143.0 189.9L145.1 190.7L147.0 190.4M133.5 196.7L135.9 196.6L136.8 197.9L139.6 197.3L139.6 199.8L140.8 199.8L142.7 200.4L143.6 201.4L143.9 200.6L144.8 198.1L144.0 195.7L144.3 193.9L145.1 191.6L143.0 189.9L140.2 190.0L137.5 190.8L136.9 193.3L136.0 194.2L135.9 196.6M144.3 193.9L147.0 193.6M144.8 198.1L146.3 198.8L147.5 200.2L150.9 199.5M144.0 195.7L145.0 195.0L144.8 193.7M133.3 203.8L134.6 203.8L137.4 203.9L140.5 204.0L141.6 204.1M139.6 199.8L139.6 201.1L140.8 201.1L140.5 204.0M138.3 206.8L138.3 211.1L136.2 211.1M138.3 208.6L140.2 208.9L141.7 209.2L144.1 206.9L145.3 207.1L145.7 209.9M138.3 206.8L139.0 204.4M141.6 204.1L142.7 205.8L144.1 206.9M141.6 204.1L143.3 203.3L144.8 202.7L146.4 201.7L146.3 198.8M144.8 202.7L146.2 203.4L146.3 205.2L145.3 207.1M146.4 201.7L148.1 203.0L147.8 203.7M131.2 190.1L133.1 188.9L134.1 187.1L134.9 185.9L134.6 185.2M132.0 191.6L134.2 191.6L135.9 191.8L136.0 194.2M131.9 192.4L133.0 192.4L133.0 191.6M134.9 185.9L135.6 188.1L134.9 189.9L135.9 191.8M134.9 189.9L137.5 190.8M135.6 188.1L137.7 187.4L140.2 186.5M120.8 190.2L120.9 188.4L121.1 186.7M124.3 189.9L124.3 187.1L124.3 186.2M126.7 189.2L126.3 186.2M127.7 189.1L128.2 185.7M121.1 186.7L122.6 186.6L124.3 186.2L126.3 186.2L128.2 185.7M118.9 188.7L119.6 187.7L120.9 188.4M117.8 187.4L119.6 187.7M116.7 186.2L117.5 185.2L118.9 185.3L121.1 186.7M115.7 185.3L118.9 185.3" fill="none" stroke="#dfe4ec" stroke-opacity=".5" stroke-width=".4" stroke-linejoin="round"/>
<path d="M155.0 163.2L156.8 161.9L158.7 162.1L157.8 163.6L158.6 165.5L159.3 166.9L159.0 169.1L156.8 169.1L156.2 167.7L156.5 166.6L155.3 164.7Z" fill="#f5f5f5"/>
<path d="M289.600 165 L290.400 168.500 L289.800 169.500 L291 171.500 L287.500 171.800 L286 170.600 L286.200 169 L288 168.800Z" fill="#667087"/>
<!-- decorative wave lines -->
<path id="gold" d="M0.0 280.0C1.7 277.2 6.7 268.2 10.0 263.0C13.3 257.8 16.7 254.3 20.0 249.0C23.3 243.7 26.2 238.0 30.0 231.0C33.8 224.0 39.2 213.3 43.0 207.0C46.8 200.7 49.7 196.3 53.0 193.0C56.3 189.7 59.3 187.9 63.0 187.0C66.7 186.1 70.8 186.8 75.0 187.5C79.2 188.2 83.8 189.4 88.0 191.0C92.2 192.6 94.7 194.3 100.0 197.0C105.3 199.7 113.3 204.3 120.0 207.0C126.7 209.7 134.2 212.7 140.0 213.0C145.8 213.3 149.5 212.3 155.0 209.0C160.5 205.7 167.7 198.7 173.0 193.0C178.3 187.3 182.5 180.2 187.0 175.0C191.5 169.8 196.2 165.0 200.0 162.0C203.8 159.0 206.7 158.0 210.0 157.0C213.3 156.0 216.7 155.5 220.0 156.0C223.3 156.5 226.7 157.7 230.0 160.0C233.3 162.3 236.7 165.0 240.0 170.0C243.3 175.0 246.7 182.8 250.0 190.0C253.3 197.2 256.7 206.7 260.0 213.0C263.3 219.3 266.7 224.2 270.0 228.0C273.3 231.8 276.5 233.9 280.0 236.0C283.5 238.1 286.8 240.2 291.0 240.5C295.2 240.8 299.5 240.2 305.0 238.0C310.5 235.8 318.4 230.9 324.0 227.0C329.6 223.1 332.9 217.5 338.7 214.3C344.5 211.1 352.7 209.5 358.7 208.0C364.7 206.5 369.0 208.0 374.8 205.3C380.6 202.6 387.3 198.1 393.5 192.0C399.7 185.9 406.2 174.2 412.0 169.0C417.8 163.8 422.7 163.0 428.0 161.0C433.3 159.0 439.5 159.0 444.0 157.0C448.5 155.0 451.4 153.4 455.0 149.0C458.6 144.6 462.6 136.7 465.7 130.5C468.8 124.3 471.5 117.5 473.7 111.7C475.9 105.9 477.8 99.0 479.0 95.7C480.2 92.4 480.7 92.4 481.0 91.7" fill="none" stroke="url(#lgGold)" stroke-width=".9"/>
<path id="gray" d="M0.0 281.0C1.7 279.2 6.7 273.7 10.0 270.0C13.3 266.3 15.6 264.0 20.0 259.0C24.4 254.0 31.7 246.5 36.7 240.0C41.7 233.5 46.5 224.3 50.0 220.0C53.5 215.7 55.2 215.3 58.0 214.0C60.8 212.7 63.3 213.0 67.0 212.0C70.7 211.0 74.5 210.0 80.0 208.0C85.5 206.0 92.2 204.2 100.0 200.0C107.8 195.8 118.7 186.7 127.0 183.0C135.3 179.3 143.7 179.2 150.0 178.0C156.3 176.8 161.2 176.8 165.0 176.0C168.8 175.2 169.3 176.2 173.0 173.0C176.7 169.8 182.5 161.7 187.0 157.0C191.5 152.3 196.5 147.4 200.0 145.0C203.5 142.6 205.2 143.0 208.0 142.5C210.8 142.0 214.2 141.8 217.0 142.0C219.8 142.2 222.3 143.0 225.0 144.0C227.7 145.0 230.0 145.0 233.0 148.0C236.0 151.0 239.7 156.7 243.0 162.0C246.3 167.3 249.7 174.5 253.0 180.0C256.3 185.5 259.7 190.5 263.0 195.0C266.3 199.5 269.3 203.5 273.0 207.0C276.7 210.5 281.2 213.8 285.0 216.0C288.8 218.2 292.5 219.8 296.0 220.0C299.5 220.2 302.8 218.7 306.0 217.0C309.2 215.3 311.8 213.2 315.0 210.0C318.2 206.8 322.0 203.0 325.0 198.0C328.0 193.0 330.5 185.5 333.0 180.0C335.5 174.5 337.5 169.9 340.0 165.0C342.5 160.1 344.4 153.8 348.0 150.5C351.6 147.2 356.1 146.2 361.4 145.0C366.7 143.8 373.8 144.0 380.0 143.3C386.2 142.6 393.0 142.1 398.8 140.6C404.6 139.1 409.1 136.0 414.9 134.5C420.7 133.0 427.4 132.6 433.6 131.8C439.8 131.1 447.2 131.1 452.3 130.0C457.4 128.9 460.7 127.4 464.3 125.0C467.9 122.6 470.4 119.5 473.7 115.7C477.0 111.9 480.8 106.0 484.4 102.4C487.9 98.9 491.9 96.2 495.0 94.4C498.1 92.6 501.7 92.2 503.0 91.7" fill="none" stroke="url(#lgGray)" stroke-width=".9"/>
<g clip-path="url(#mc)"><use href="#gold" stroke="#ffffff" stroke-opacity=".55"/><use href="#gray" stroke="#ffffff" stroke-opacity=".6"/></g>
<!-- arrow -->
<path d="M613.500 249 L733 181.200" stroke="#cdcdcd" stroke-width=".9" fill="none"/>
<path d="M736.600 179.200 L730.800 180.100 L734.200 183.700z" fill="#cbcbcb"/>
<path d="M503 91.700 L506 90.800 L515.500 89.700" stroke="#fff" stroke-width="1.1" stroke-opacity=".95" fill="none"/>
<!-- bottom ppt icons -->
<g fill="#f8f8f8" fill-opacity=".6" stroke="#d9d9d9" stroke-width="1.1">
<circle cx="10.800" cy="484" r="9.500"/><circle cx="36" cy="484" r="9.500"/><circle cx="61.200" cy="484" r="9.500"/><circle cx="86.300" cy="484" r="9.500"/><circle cx="110.800" cy="484" r="9.500"/><circle cx="136.200" cy="484" r="9.500"/><circle cx="161.900" cy="484" r="9.500"/><circle cx="187.500" cy="484" r="9.500"/>
</g>
<g fill="none" stroke="#d4d4d4" stroke-width="1.2" stroke-linejoin="round">
<path d="M13.500 479.500 L7 484.500 L13.500 489.500Z"/>
<path d="M33.500 479.500 L40 484.500 L33.500 489.500Z"/>
<path d="M57.500 487.500 L64.500 480.500" stroke-width="2.400"/>
<path d="M82 479.700 h8.600 v7 h-8.600z M82 482.500 h8.600 M85.500 482.500 v4"/>
<circle cx="110.800" cy="482.300" r="3.200"/>
<path d="M132 480.300 h8.400 v5.400 h-8.400z"/>
<path d="M157.500 481 h6 v5 h-6z M163.500 483 l3 -2 v5 M156.500 479.500 l9.500 7.500"/>
<path d="M183.700 484 h1.200 M186.900 484 h1.200 M190.100 484 h1.200" stroke-width="1.600"/>
</g>
</svg>

<div class="cagr">CAGR OF</div>
<div class="big">6.1<small>%</small></div>
<div class="para">
<div>The global mold release</div>
<div>agents market is expected to</div>
<div>be worth USD 2.9 billion by</div>
<div>2029, growing at a CAGR of</div>
<div>6.1% during the forecast</div>
<div class="last">period.</div>
</div>

<div id="axis"></div>
<div class="bar" style="left:318px;top:256px;width:87.0px;height:7.3px;background:#0bb050;"></div>
<div class="bar" style="left:318px;top:263.3px;width:87.0px;height:4.7px;background:#808080;"></div>
<div class="bar" style="left:318px;top:268px;width:87.0px;height:30.8px;background:#fb9648;"></div>
<div class="bar" style="left:318px;top:298.8px;width:87.0px;height:43.4px;background:#3878b7;"></div>
<div class="bar" style="left:318px;top:342.2px;width:87.0px;height:79.5px;background:#b73a32;"></div>
<div class="bar" style="left:527px;top:246.7px;width:86.3px;height:8.0px;background:#0bb050;"></div>
<div class="bar" style="left:527px;top:254.7px;width:86.3px;height:5.3px;background:#808080;"></div>
<div class="bar" style="left:527px;top:260px;width:86.3px;height:31.7px;background:#fb9648;"></div>
<div class="bar" style="left:527px;top:291.7px;width:86.3px;height:45.6px;background:#3878b7;"></div>
<div class="bar" style="left:527px;top:337.3px;width:86.3px;height:84.4px;background:#b73a32;"></div>
<div class="bar" style="left:735px;top:186.3px;width:87.0px;height:10.0px;background:#0bb050;"></div>
<div class="bar" style="left:735px;top:196.3px;width:87.0px;height:7.4px;background:#808080;"></div>
<div class="bar" style="left:735px;top:203.7px;width:87.0px;height:41.0px;background:#fb9648;"></div>
<div class="bar" style="left:735px;top:244.7px;width:87.0px;height:59.0px;background:#3878b7;"></div>
<div class="bar" style="left:735px;top:303.7px;width:87.0px;height:118.0px;background:#b73a32;"></div>

<div class="val" style="left:328.3px;top:202.9px;">2.1</div>
<div class="val" style="left:538.8px;top:183.8px;">2.2</div>
<div class="val" style="left:753.900px;top:156px;">2.9</div>
<div class="yr" style="left:331.500px;">2023</div>
<div class="yr" style="left:540px;">2024</div>
<div class="yr" style="left:749px;">2029</div>

<div class="bubble"></div>
<div class="btxt">6.1<small>%</small></div>

<div class="sq" style="left:330px;background:#b73a32;"></div><div class="lg" style="left:340px;">Asia Pacific</div>
<div class="sq" style="left:422px;background:#3878b7;"></div><div class="lg" style="left:431.4px;">Europe</div>
<div class="sq" style="left:490px;background:#fb9648;"></div><div class="lg" style="left:499.2px;">North America</div>
<div class="sq" style="left:598px;background:#808080;"></div><div class="lg" style="left:606.2px;">Middle East &amp; Africa</div>
<div class="sq" style="left:738px;background:#0bb050;"></div><div class="lg" style="left:746.5px;">South America</div>
</body>
</html>
